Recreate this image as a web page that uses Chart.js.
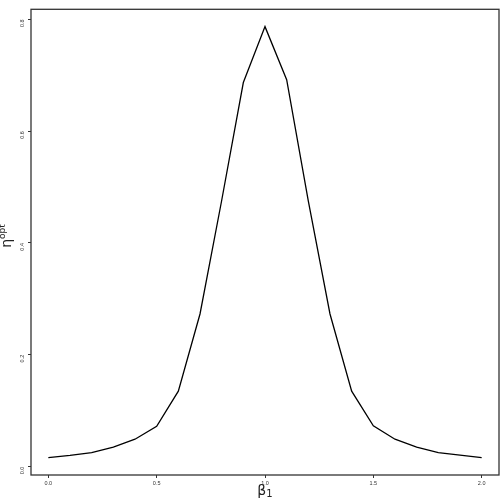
<!DOCTYPE html>
<html>
<head>
<meta charset="utf-8">
<script src="https://cdn.jsdelivr.net/npm/chart.js@4/dist/chart.umd.min.js"></script>
<style>
  body { margin: 0; background: #fff; }
  #wrap { width: 500px; height: 498px; }
</style>
</head>
<body>
<div id="wrap"><canvas id="etaPlot" width="500" height="498"></canvas></div>
<script>
// beta_1 values and the optimal eta
var beta1 = [0.0, 0.1, 0.2, 0.3, 0.4, 0.5, 0.6, 0.7, 0.8, 0.9, 1.0, 1.1, 1.2, 1.3, 1.4, 1.5, 1.6, 1.7, 1.8, 1.9, 2.0];
var etaOpt = [0.016, 0.020, 0.025, 0.035, 0.049, 0.072, 0.135, 0.273, 0.476, 0.687, 0.787, 0.692, 0.475, 0.273, 0.135, 0.073, 0.049, 0.035, 0.025, 0.0205, 0.016];
var xTicks = [0.0, 0.5, 1.0, 1.5, 2.0];
var yTicks = [0.0, 0.2, 0.4, 0.6, 0.8];

Chart.defaults.font.family = 'Liberation Sans';
Chart.defaults.color = '#333';

var axisColor = '#333';

// box round the plot region + axis titles (beta_1 and eta^opt)
var framePlugin = {
    id: 'frame',
    afterDraw: function (chart) {
        var c = chart.ctx, a = chart.chartArea;
        c.save();
        c.strokeStyle = axisColor;
        c.lineWidth = 1.3;
        c.strokeRect(a.left, a.top, a.right - a.left, a.bottom - a.top);

        c.fillStyle = '#222';
        c.textBaseline = 'alphabetic';
        // x title
        c.font = '14px "DejaVu Sans"';
        var bw = c.measureText('β').width;
        c.font = '10px "DejaVu Sans"';
        var sw = c.measureText('1').width;
        var x0 = 265 - (bw + sw) / 2;
        c.font = '14px "DejaVu Sans"';
        c.fillText('β', x0, 495);
        c.font = '10px "DejaVu Sans"';
        c.fillText('1', x0 + bw, 497);

        // y title, rotated
        c.translate(11, 236);
        c.rotate(-Math.PI / 2);
        c.font = '14px "DejaVu Sans"';
        var ew = c.measureText('η').width;
        c.font = '9px "DejaVu Sans"';
        var ow = c.measureText('opt').width;
        var s0 = -(ew + ow) / 2;
        c.font = '14px "DejaVu Sans"';
        c.fillText('η', s0, 0);
        c.font = '9px "DejaVu Sans"';
        c.fillText('opt', s0 + ew, -6);
        c.restore();
    }
};

var ctx = document.getElementById('etaPlot');
var myChart = new Chart(ctx, {
    type: 'line',
    data: {
        datasets: [
            {
                data: beta1.map(function (b, i) { return { x: b, y: etaOpt[i] }; }),
                borderColor: '#000',
                borderWidth: 1.3,
                pointRadius: 0,
                tension: 0,
                fill: false
            }
        ]
    },
    options: {
        responsive: false,
        animation: false,
        layout: { padding: { left: 0, top: 1, right: 1, bottom: 0 } },
        plugins: {
            legend: { display: false },
            tooltip: { enabled: false }
        },
        scales: {
            x: {
                type: 'linear',
                min: -0.08,
                max: 2.08,
                afterBuildTicks: function (scale) {
                    scale.ticks = xTicks.map(function (v) { return { value: v }; });
                },
                afterFit: function (scale) { scale.height = 23; },
                grid: {
                    drawOnChartArea: false,
                    tickLength: 3,
                    color: axisColor,
                    tickColor: axisColor
                },
                border: { display: false },
                ticks: {
                    font: { size: 5.5 },
                    padding: 2,
                    maxRotation: 0,
                    autoSkip: false,
                    callback: function (v) { return Number(v).toFixed(1); }
                }
            },
            y: {
                type: 'linear',
                min: -0.015,
                max: 0.818,
                afterBuildTicks: function (scale) {
                    scale.ticks = yTicks.map(function (v) { return { value: v }; });
                },
                afterFit: function (scale) { scale.width = 31; },
                grid: {
                    drawOnChartArea: false,
                    tickLength: 3,
                    color: axisColor,
                    tickColor: axisColor
                },
                border: { display: false },
                ticks: {
                    font: { size: 5.5 },
                    padding: 6,
                    minRotation: 90,
                    maxRotation: 90,
                    autoSkip: false,
                    callback: function (v) { return Number(v).toFixed(1); }
                }
            }
        }
    },
    plugins: [framePlugin]
});
</script>
</body>
</html>
